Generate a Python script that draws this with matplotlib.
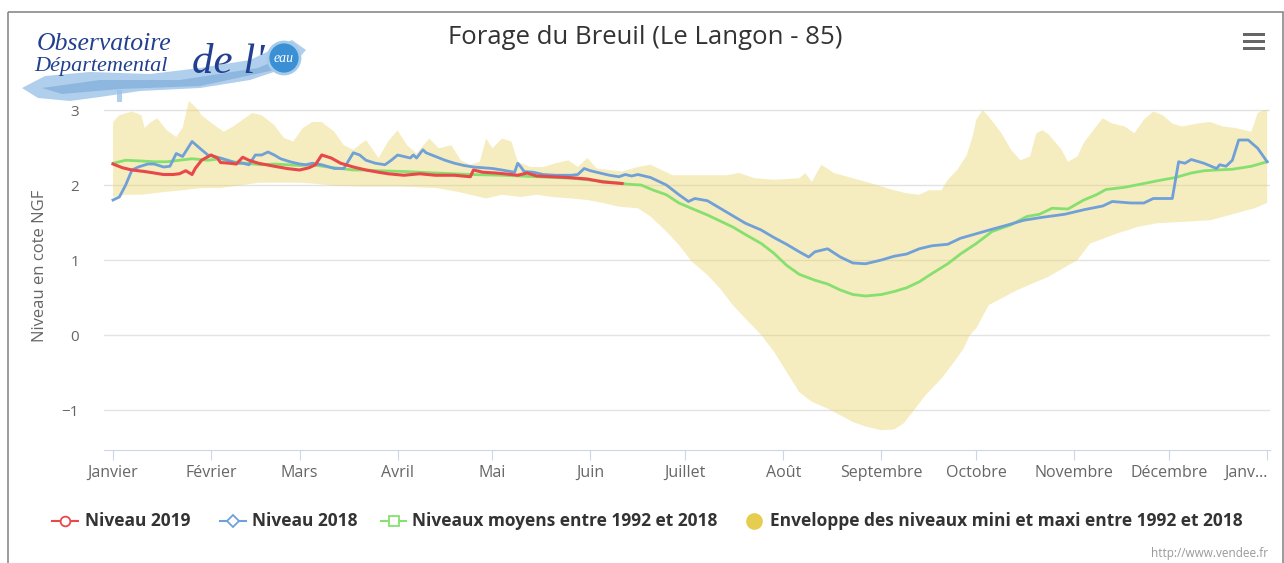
import numpy as np
import matplotlib
matplotlib.use("Agg")
import matplotlib.pyplot as plt
from matplotlib.patches import Polygon, Circle, Rectangle
from matplotlib.lines import Line2D

plt.rcParams['font.family'] = ['Open Sans', 'DejaVu Sans']

TITLE = "Forage du Breuil (Le Langon - 85)"
YLABEL = "Niveau en cote NGF"
MONTH_DAYS = [0, 31, 59, 90, 120, 151, 181, 212, 243, 273, 304, 334, 365]
MONTH_LABELS = ["Janvier", "Février", "Mars", "Avril", "Mai", "Juin", "Juillet",
                "Août", "Septembre", "Octobre", "Novembre", "Décembre", "Janv…"]

# Niveau 2019 (day of year, level)
days_2019 = [0, 3, 6, 10, 13, 16, 19, 21, 23, 25, 26, 28, 31, 33, 34, 37, 39, 41, 43, 46,
             51, 55, 59, 62, 64, 66, 69, 72, 76, 80, 84, 87, 92, 97, 102, 108, 113, 114, 117, 121,
             126, 128, 131, 134, 139, 144, 150, 155, 161]
niveau_2019 = [2.28, 2.23, 2.20, 2.18, 2.16, 2.14, 2.14, 2.15, 2.19, 2.14, 2.22, 2.33, 2.40, 2.36, 2.30, 2.29, 2.28, 2.37, 2.33, 2.29,
               2.25, 2.22, 2.20, 2.23, 2.27, 2.40, 2.36, 2.29, 2.24, 2.20, 2.17, 2.15, 2.13, 2.15, 2.13, 2.13, 2.11, 2.20, 2.17, 2.16,
               2.14, 2.13, 2.16, 2.12, 2.11, 2.10, 2.08, 2.04, 2.02]

# Niveau 2018
days_2018 = [0, 2, 4, 6, 8, 11, 13, 16, 18, 20, 22, 25, 28, 30, 32, 34, 37, 39, 41, 43,
             45, 47, 49, 51, 53, 56, 59, 61, 63, 66, 70, 73, 76, 78, 80, 83, 86, 88, 90, 92,
             94, 95, 96, 98, 99, 102, 105, 108, 111, 114, 117, 120, 123, 127, 128, 129, 130, 133, 136, 140,
             145, 147, 149, 151, 154, 157, 160, 162, 164, 166, 170, 175, 179, 182, 184, 188, 192, 196, 200, 205,
             209, 213, 217, 220, 222, 226, 230, 234, 238, 243, 247, 251, 255, 259, 264, 268, 273, 278, 284, 288,
             294, 301, 307, 313, 316, 322, 326, 329, 332, 335, 337, 339, 341, 345, 349, 350, 352, 354, 356, 359,
             362, 365]
niveau_2018 = [1.80, 1.84, 2.00, 2.20, 2.24, 2.28, 2.28, 2.24, 2.25, 2.42, 2.38, 2.58, 2.47, 2.40, 2.38, 2.36, 2.32, 2.29, 2.29, 2.27,
               2.40, 2.40, 2.44, 2.40, 2.35, 2.31, 2.28, 2.27, 2.29, 2.27, 2.22, 2.22, 2.43, 2.40, 2.33, 2.29, 2.27, 2.33, 2.40, 2.38,
               2.36, 2.40, 2.36, 2.47, 2.43, 2.38, 2.33, 2.29, 2.26, 2.24, 2.23, 2.22, 2.20, 2.17, 2.29, 2.24, 2.18, 2.17, 2.14, 2.13,
               2.13, 2.14, 2.22, 2.19, 2.16, 2.13, 2.11, 2.14, 2.12, 2.14, 2.10, 2.00, 1.87, 1.78, 1.82, 1.79, 1.69, 1.59, 1.49, 1.40,
               1.30, 1.21, 1.11, 1.04, 1.11, 1.15, 1.04, 0.96, 0.95, 1.00, 1.05, 1.08, 1.15, 1.19, 1.21, 1.29, 1.35, 1.41, 1.48, 1.53,
               1.57, 1.61, 1.67, 1.72, 1.78, 1.76, 1.76, 1.82, 1.82, 1.82, 2.31, 2.29, 2.34, 2.29, 2.22, 2.27, 2.25, 2.33, 2.60, 2.60,
               2.49, 2.31]

# Niveaux moyens 1992-2018
days_moy = [0, 4, 9, 13, 17, 21, 25, 30, 34, 38, 42, 47, 51, 55, 59, 63, 68, 72, 76, 80,
            84, 92, 102, 113, 123, 134, 145, 155, 163, 167, 171, 175, 179, 184, 188, 192, 196, 200, 205, 209,
            213, 217, 222, 226, 230, 234, 238, 243, 247, 251, 255, 259, 264, 268, 273, 278, 284, 289, 293, 297,
            302, 307, 311, 314, 320, 326, 332, 336, 341, 345, 349, 354, 360, 365]
niveau_moy = [2.29, 2.33, 2.32, 2.31, 2.31, 2.33, 2.35, 2.33, 2.35, 2.31, 2.29, 2.27, 2.28, 2.27, 2.26, 2.27, 2.24, 2.22, 2.20, 2.20,
              2.19, 2.18, 2.16, 2.14, 2.13, 2.11, 2.09, 2.05, 2.01, 2.00, 1.93, 1.87, 1.76, 1.67, 1.60, 1.52, 1.44, 1.34, 1.22, 1.09,
              0.93, 0.81, 0.73, 0.68, 0.60, 0.54, 0.52, 0.54, 0.58, 0.63, 0.71, 0.82, 0.95, 1.08, 1.22, 1.38, 1.47, 1.58, 1.61, 1.69,
              1.68, 1.80, 1.87, 1.94, 1.97, 2.02, 2.07, 2.10, 2.16, 2.19, 2.20, 2.21, 2.25, 2.31]

# Enveloppe mini / maxi 1992-2018
days_max = [0, 2, 6, 9, 10, 12, 14, 17, 20, 22, 24, 27, 28, 32, 35, 38, 41, 44, 47, 51,
            54, 57, 60, 63, 66, 70, 73, 76, 80, 84, 87, 90, 93, 96, 100, 103, 107, 110, 113, 116,
            118, 120, 123, 126, 128, 132, 136, 140, 144, 147, 150, 153, 157, 161, 166, 170, 177, 181, 188, 194,
            198, 203, 209, 217, 219, 221, 224, 228, 234, 240, 247, 251, 255, 258, 262, 264, 267, 270, 272, 273,
            275, 277, 281, 284, 287, 290, 292, 294, 296, 300, 302, 305, 307, 310, 313, 316, 320, 323, 326, 329,
            332, 335, 338, 343, 347, 351, 355, 360, 362, 364, 365]
env_max = [2.84, 2.93, 2.98, 2.93, 2.76, 2.84, 2.89, 2.73, 2.64, 2.76, 3.12, 3.00, 2.93, 2.80, 2.71, 2.78, 2.87, 2.96, 2.93, 2.80,
           2.63, 2.58, 2.76, 2.84, 2.84, 2.71, 2.53, 2.47, 2.60, 2.36, 2.58, 2.73, 2.53, 2.42, 2.62, 2.49, 2.53, 2.33, 2.27, 2.31,
           2.62, 2.49, 2.62, 2.58, 2.31, 2.24, 2.24, 2.29, 2.33, 2.24, 2.36, 2.22, 2.20, 2.18, 2.24, 2.27, 2.13, 2.13, 2.13, 2.13,
           2.16, 2.09, 2.07, 2.09, 2.16, 2.04, 2.27, 2.16, 2.09, 2.02, 1.93, 1.89, 1.87, 1.93, 1.93, 2.07, 2.20, 2.40, 2.67, 2.87,
           3.00, 2.91, 2.69, 2.47, 2.33, 2.38, 2.69, 2.73, 2.67, 2.47, 2.31, 2.38, 2.56, 2.73, 2.89, 2.82, 2.78, 2.69, 2.87, 2.98,
           2.93, 2.82, 2.78, 2.82, 2.84, 2.78, 2.76, 2.71, 2.96, 3.00, 3.00]
days_min = [0, 4, 9, 17, 22, 28, 34, 41, 46, 59, 63, 70, 78, 91, 102, 109, 113, 118, 123, 129,
            134, 139, 145, 150, 155, 160, 166, 170, 175, 179, 183, 188, 192, 196, 200, 205, 209, 213, 217, 221,
            226, 230, 234, 238, 243, 247, 250, 253, 257, 262, 266, 269, 271, 273, 277, 286, 296, 305, 309, 318,
            324, 330, 339, 347, 355, 361, 365]
env_min = [1.84, 1.87, 1.87, 1.91, 1.93, 1.96, 1.96, 2.00, 2.03, 2.03, 2.02, 1.99, 1.98, 1.98, 1.96, 1.91, 1.87, 1.82, 1.87, 1.84,
           1.87, 1.84, 1.82, 1.80, 1.76, 1.71, 1.69, 1.58, 1.38, 1.20, 0.98, 0.80, 0.62, 0.40, 0.22, 0.00, -0.22, -0.49, -0.76, -0.89,
           -0.98, -1.07, -1.16, -1.22, -1.27, -1.26, -1.18, -1.02, -0.80, -0.58, -0.36, -0.18, 0.00, 0.09, 0.40, 0.60, 0.78, 1.00, 1.22, 1.36,
           1.44, 1.49, 1.51, 1.53, 1.62, 1.69, 1.76]

RED = "#e8484a"
BLUE = "#6fa0d8"
GREEN = "#86e06f"
YELLOW = "#e6cd50"
W, H = 1284, 563

fig = plt.figure(figsize=(W / 100, H / 100), dpi=100)

# background layer in pixel coords: frame, logo, menu icon, legend
bg = fig.add_axes([0, 0, 1, 1])
bg.set_xlim(0, W)
bg.set_ylim(H, 0)
bg.axis("off")
bg.add_patch(Rectangle((7.5, 11.5), 1275, 560, fill=False, ec="#8a8a8a", lw=1.2))

# logo
bg.add_patch(Polygon([(22, 88), (45, 76), (90, 72), (150, 74), (200, 68), (250, 60), (292, 40), (306, 50),
                      (292, 66), (250, 80), (200, 88), (140, 91), (100, 97), (70, 101), (38, 98)],
                     closed=True, fc="#9cc3e8", ec="none", alpha=0.8))
bg.add_patch(Polygon([(42, 88), (100, 80), (180, 80), (258, 68), (296, 52), (284, 68), (200, 86), (120, 89), (62, 94)],
                     closed=True, fc="#5a93cd", ec="none", alpha=0.4))
bg.add_patch(Rectangle((117, 90), 5, 12, fc="#9cc3e8", ec="none", alpha=0.8))
bg.add_patch(Circle((284, 58), 16, fc="#3b8fd4", ec="#a6cbea", lw=2))
bg.text(284, 59, "eau", color="white", fontsize=10, style="italic", family="Liberation Serif",
        ha="center", va="center")
bg.text(37, 50, "Observatoire", color="#22408f", fontsize=18.5, style="italic", family="Liberation Serif")
bg.text(34, 71, "Départemental", color="#22408f", fontsize=16, style="italic", family="Liberation Serif")
bg.text(192, 73, "de l'", color="#22408f", fontsize=31, style="italic", family="Liberation Serif")

# menu icon
for yy in (34, 41, 48):
    bg.add_patch(Rectangle((1243, yy - 1.5), 22, 3, fc="#666666", ec="none"))

# legend
leg_y = 521
legend_items = [
    (52, 78, "o", RED, 85, "Niveau 2019"),
    (220, 246, "D", BLUE, 252, "Niveau 2018"),
    (381, 406, "s", GREEN, 412, "Niveaux moyens entre 1992 et 2018"),
]
for x0, x1, mk, col, tx, label in legend_items:
    bg.add_line(Line2D([x0, x1], [leg_y, leg_y], color=col, lw=1.5))
    bg.plot((x0 + x1) / 2, leg_y, marker=mk, ms=7 if mk != "D" else 6, mfc="white", mec=col, mew=1.3)
    bg.text(tx, leg_y, label, fontsize=12.5, fontweight="bold", color="#333333", va="center")
bg.plot(754, leg_y, marker="o", ms=12, color=YELLOW, mec="none")
bg.text(770, leg_y, "Enveloppe des niveaux mini et maxi entre 1992 et 2018",
        fontsize=12.5, fontweight="bold", color="#333333", va="center")

# main plot
ax = fig.add_axes([104 / W, 1 - 450 / H, (1270 - 104) / W, (450 - 98.75) / H])
ax.set_facecolor("none")

ax.fill(np.concatenate([days_max, days_min[::-1]]), np.concatenate([env_max, env_min[::-1]]),
        color=YELLOW, alpha=0.36, lw=0, zorder=1)
ax.plot(days_moy, niveau_moy, color=GREEN, lw=2, zorder=2)
ax.plot(days_2018, niveau_2018, color=BLUE, lw=2, zorder=3)
ax.plot(days_2019, niveau_2019, color=RED, lw=2.2, zorder=4)

ax.set_xlim(-2.85, 365.9)
ax.set_ylim(-1.533, 3.15)
ax.set_yticks([-1, 0, 1, 2, 3])
ax.set_yticklabels(["−1", "0", "1", "2", "3"])
ax.yaxis.grid(True, color="#e3e3e3", lw=1)
ax.set_axisbelow(True)
ax.set_xticks(MONTH_DAYS)
ax.set_xticklabels(MONTH_LABELS)
for s in ("top", "right", "left"):
    ax.spines[s].set_visible(False)
ax.spines["bottom"].set_color("#ccd6eb")
ax.tick_params(axis="x", length=7.5, color="#ccd6eb", labelcolor="#666666", labelsize=11.5, pad=3)
ax.tick_params(axis="y", length=0, labelcolor="#666666", labelsize=11, pad=18)
ax.get_xticklabels()[-1].set_horizontalalignment("right")

fig.text(40 / W, 1 - 266 / H, YLABEL, rotation=90, ha="center", va="center", fontsize=12, color="#666666")
fig.text(645 / W, 1 - 37 / H, TITLE, ha="center", va="center", fontsize=18.5, color="#333333")
fig.text(1268 / W, 1 - 553 / H, "http://www.vendee.fr", ha="right", va="center", fontsize=8.5, color="#999999")

fig.savefig("out.png", dpi=100)
